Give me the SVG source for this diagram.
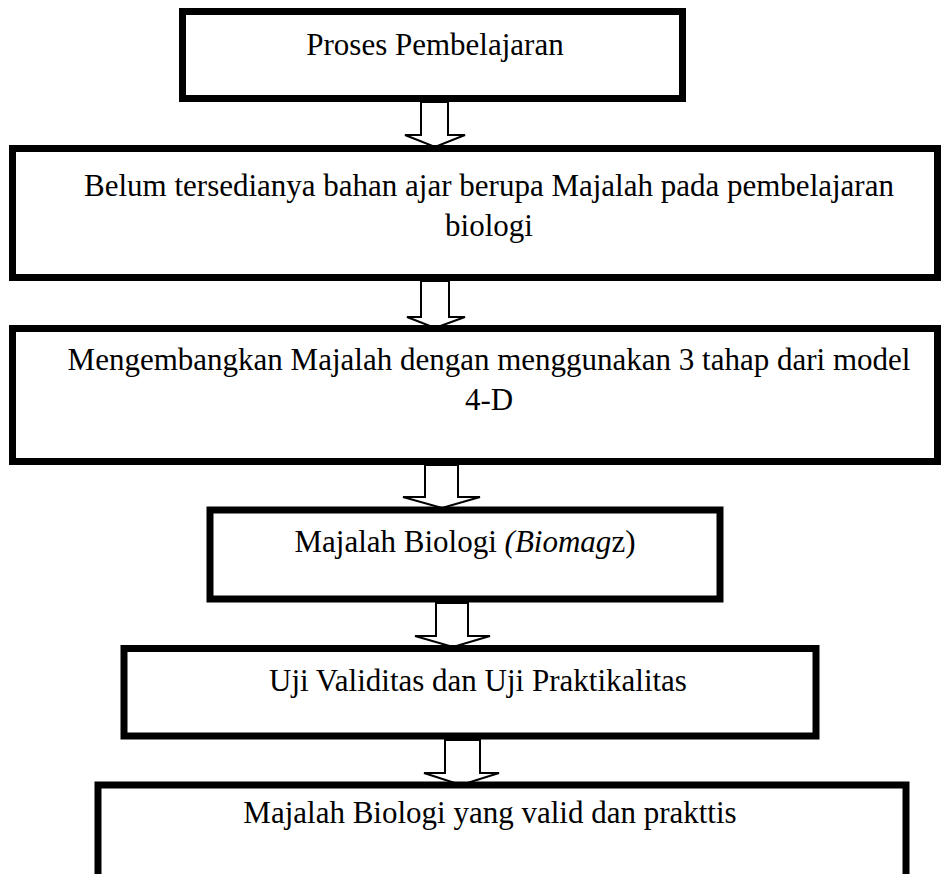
<svg xmlns="http://www.w3.org/2000/svg" width="941" height="874" viewBox="0 0 941 874">
<style>
.box{fill:#fff;stroke:#000;stroke-width:7}
.arr{fill:#fff;stroke:#000;stroke-width:2;stroke-linejoin:miter}
.t{font-family:"Liberation Serif","Times New Roman",serif;font-size:31px;fill:#000;text-anchor:middle}
</style>
<rect width="941" height="874" fill="#fff"/>
<g id="connectors">
<polygon class="arr" points="421,102 448,102 448,135 465,135 435,147 405,135 421,135"/>
<polygon class="arr" points="421,281 449,281 449,317 465,317 435,328 407,317 421,317"/>
<polygon class="arr" points="425,465 458,465 458,497 480,497 442,508 403,497 425,497"/>
<polygon class="arr" points="436,603 468,603 468,636 490,636 453,647 415,636 436,636"/>
<polygon class="arr" points="445,740 480,740 480,773 499,773 461,785 424,773 445,773"/>
</g>
<g id="n1">
<rect class="box" x="182.5" y="11.5" width="500" height="87"/>
<text class="t" x="435" y="55">Proses Pembelajaran</text>
</g>
<g id="n2">
<rect class="box" x="12.5" y="148.5" width="925" height="129"/>
<text class="t" x="489" y="196">Belum tersedianya bahan ajar berupa Majalah pada pembelajaran</text>
<text class="t" x="489" y="236">biologi</text>
</g>
<g id="n3">
<rect class="box" x="12.5" y="328.5" width="925" height="133"/>
<text class="t" x="489" y="370">Mengembangkan Majalah dengan menggunakan 3 tahap dari model</text>
<text class="t" x="489" y="410">4-D</text>
</g>
<g id="n4">
<rect class="box" x="210" y="510" width="510" height="89"/>
<text class="t" x="465" y="552">Majalah Biologi <tspan font-style="italic">(Biomag</tspan>z)</text>
</g>
<g id="n5">
<rect class="box" x="124" y="648.5" width="692" height="87.5"/>
<text class="t" x="478" y="691">Uji Validitas dan Uji Praktikalitas</text>
</g>
<g id="n6">
<rect class="box" x="98" y="785" width="808" height="120"/>
<text class="t" x="490" y="823">Majalah Biologi yang valid dan prakttis</text>
</g>
</svg>
